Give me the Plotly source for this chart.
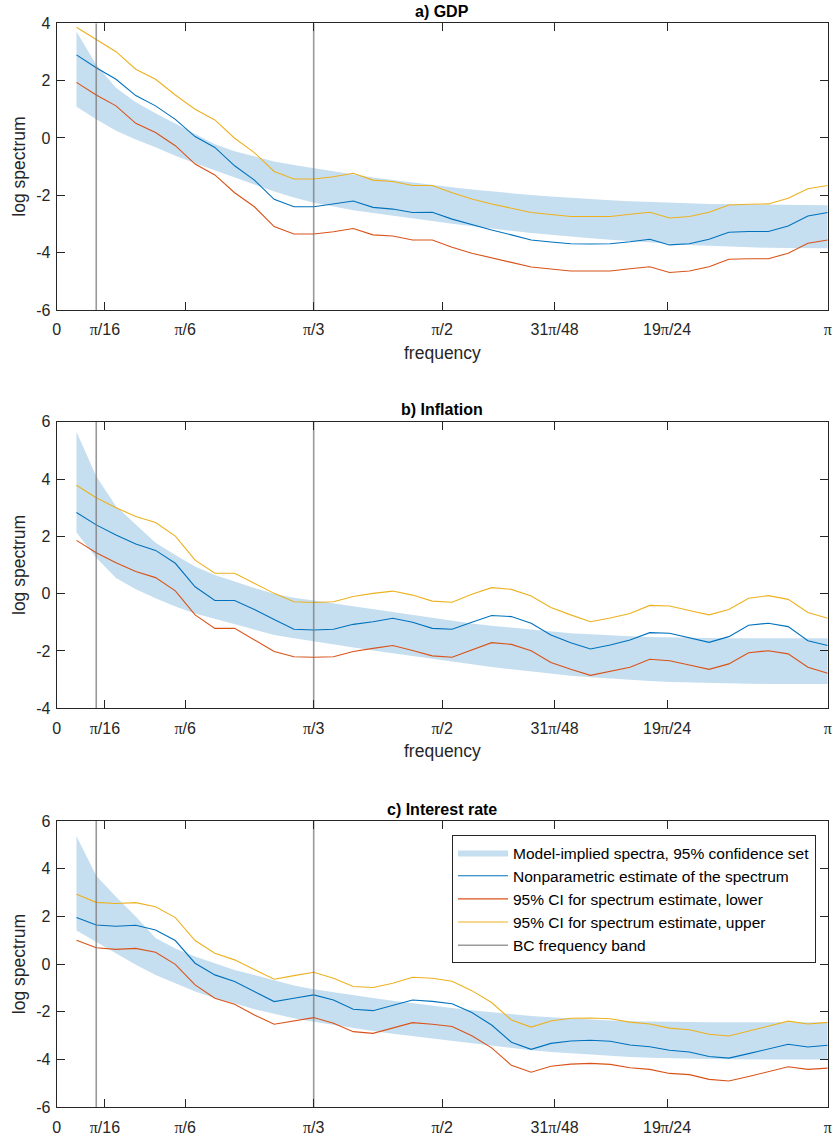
import numpy as np
import plotly.graph_objects as go

PI = np.pi
N = 39
freq = [PI * j / N for j in range(1, N + 1)]

# ---------- Panel a) GDP ----------
gdp_est = [2.90, 2.45, 2.05, 1.48, 1.12, 0.65, 0.05, -0.33, -0.97, -1.47, -2.14, -2.40, -2.40,
           -2.30, -2.20, -2.42, -2.48, -2.60, -2.59, -2.83, -3.03, -3.21, -3.38, -3.56, -3.63,
           -3.69, -3.70, -3.69, -3.62, -3.53, -3.73, -3.69, -3.53, -3.29, -3.26, -3.26, -3.07,
           -2.72, -2.60]
gdp_lo = [1.94, 1.50, 1.12, 0.51, 0.19, -0.27, -0.91, -1.29, -1.91, -2.40, -3.09, -3.35, -3.35,
          -3.27, -3.16, -3.38, -3.42, -3.56, -3.56, -3.81, -4.02, -4.17, -4.34, -4.50, -4.57,
          -4.64, -4.64, -4.64, -4.56, -4.49, -4.69, -4.64, -4.49, -4.23, -4.21, -4.21, -4.02,
          -3.67, -3.56]
gdp_hi = [3.86, 3.42, 3.01, 2.40, 2.05, 1.50, 1.00, 0.63, -0.01, -0.51, -1.17, -1.43, -1.43,
          -1.35, -1.23, -1.47, -1.52, -1.66, -1.66, -1.91, -2.13, -2.30, -2.45, -2.60, -2.67,
          -2.74, -2.74, -2.74, -2.66, -2.59, -2.79, -2.74, -2.59, -2.34, -2.31, -2.30, -2.10,
          -1.77, -1.66]
gdp_band_hi = [3.71, 2.55, 1.75, 1.25, 0.86, 0.50, 0.12, -0.22, -0.46, -0.64, -0.82, -0.94, -1.05,
               -1.17, -1.28, -1.38, -1.47, -1.56, -1.64, -1.72, -1.80, -1.87, -1.94, -1.99, -2.04,
               -2.09, -2.13, -2.17, -2.21, -2.24, -2.26, -2.28, -2.30, -2.31, -2.32, -2.33, -2.34,
               -2.34, -2.35]
gdp_band_lo = [1.09, 0.65, 0.25, -0.05, -0.32, -0.62, -0.88, -1.12, -1.38, -1.62, -1.87, -2.08, -2.26,
               -2.40, -2.52, -2.62, -2.72, -2.80, -2.90, -2.99, -3.08, -3.16, -3.24, -3.31, -3.38,
               -3.44, -3.50, -3.55, -3.60, -3.65, -3.69, -3.73, -3.76, -3.79, -3.81, -3.83, -3.84,
               -3.85, -3.85]

# ---------- Panel b) Inflation ----------
inf_est = [2.83, 2.40, 2.05, 1.73, 1.51, 1.06, 0.24, -0.24, -0.24, -0.55, -0.90, -1.24, -1.27,
           -1.24, -1.07, -0.98, -0.86, -1.00, -1.21, -1.24, -1.00, -0.76, -0.80, -1.03, -1.44,
           -1.71, -1.93, -1.79, -1.62, -1.36, -1.38, -1.53, -1.70, -1.50, -1.10, -1.03, -1.15,
           -1.64, -1.81]
inf_lo = [1.86, 1.43, 1.08, 0.77, 0.56, 0.10, -0.74, -1.21, -1.21, -1.62, -2.02, -2.20, -2.22,
          -2.20, -2.02, -1.91, -1.81, -1.98, -2.17, -2.22, -1.97, -1.71, -1.77, -1.99, -2.40,
          -2.64, -2.85, -2.72, -2.57, -2.29, -2.34, -2.49, -2.64, -2.45, -2.06, -1.99, -2.10,
          -2.57, -2.78]
inf_hi = [3.78, 3.35, 3.00, 2.69, 2.48, 2.01, 1.17, 0.71, 0.71, 0.36, 0.01, -0.28, -0.31,
          -0.28, -0.10, 0.01, 0.09, -0.05, -0.26, -0.30, -0.02, 0.21, 0.15, -0.08, -0.48,
          -0.74, -0.98, -0.85, -0.69, -0.41, -0.43, -0.59, -0.74, -0.55, -0.16, -0.07, -0.20,
          -0.66, -0.86]
inf_band_hi = [5.65, 4.10, 3.05, 2.40, 1.78, 1.35, 0.95, 0.65, 0.42, 0.20, 0.00, -0.14, -0.24,
               -0.34, -0.45, -0.55, -0.65, -0.76, -0.86, -0.95, -1.04, -1.12, -1.19, -1.26, -1.32,
               -1.38, -1.42, -1.46, -1.49, -1.51, -1.53, -1.54, -1.55, -1.56, -1.56, -1.56, -1.56,
               -1.56, -1.56]
inf_band_lo = [2.13, 1.25, 0.55, 0.15, -0.16, -0.45, -0.69, -0.88, -1.08, -1.27, -1.44, -1.56, -1.67,
               -1.78, -1.88, -1.98, -2.08, -2.18, -2.28, -2.38, -2.47, -2.56, -2.64, -2.72, -2.79,
               -2.86, -2.92, -2.97, -3.01, -3.05, -3.08, -3.10, -3.12, -3.13, -3.14, -3.15, -3.15,
               -3.15, -3.15]

# ---------- Panel c) Interest rate ----------
int_est = [1.96, 1.64, 1.59, 1.63, 1.43, 0.99, 0.04, -0.45, -0.73, -1.15, -1.57, -1.43, -1.29,
           -1.50, -1.89, -1.95, -1.71, -1.50, -1.56, -1.66, -2.03, -2.55, -3.27, -3.57, -3.32,
           -3.22, -3.19, -3.23, -3.39, -3.46, -3.61, -3.68, -3.87, -3.94, -3.75, -3.55, -3.36,
           -3.47, -3.40]
int_lo = [1.00, 0.69, 0.62, 0.66, 0.50, -0.01, -0.87, -1.43, -1.68, -2.13, -2.52, -2.38, -2.24,
          -2.48, -2.83, -2.90, -2.69, -2.45, -2.52, -2.61, -3.00, -3.51, -4.24, -4.53, -4.28,
          -4.19, -4.16, -4.20, -4.34, -4.41, -4.58, -4.63, -4.83, -4.90, -4.71, -4.51, -4.30,
          -4.41, -4.36]
int_hi = [2.93, 2.59, 2.54, 2.58, 2.41, 1.95, 0.99, 0.46, 0.18, -0.24, -0.63, -0.48, -0.34,
          -0.59, -0.94, -0.98, -0.80, -0.55, -0.59, -0.72, -1.11, -1.61, -2.34, -2.64, -2.38,
          -2.27, -2.26, -2.29, -2.43, -2.51, -2.68, -2.75, -2.94, -3.01, -2.80, -2.61, -2.39,
          -2.51, -2.44]
int_band_hi = [5.37, 3.70, 2.83, 2.00, 1.10, 0.66, 0.32, 0.04, -0.24, -0.45, -0.69, -0.90, -1.05,
               -1.18, -1.30, -1.42, -1.53, -1.64, -1.74, -1.84, -1.93, -2.02, -2.10, -2.17, -2.23,
               -2.28, -2.32, -2.36, -2.39, -2.41, -2.42, -2.43, -2.44, -2.44, -2.44, -2.44, -2.44,
               -2.44, -2.44]
int_band_lo = [1.41, 0.94, 0.46, -0.03, -0.45, -0.80, -1.15, -1.43, -1.64, -1.89, -2.08, -2.27, -2.41,
               -2.55, -2.68, -2.80, -2.92, -3.02, -3.13, -3.24, -3.34, -3.44, -3.53, -3.61, -3.68,
               -3.74, -3.80, -3.85, -3.89, -3.92, -3.95, -3.97, -3.98, -3.99, -4.00, -4.00, -4.00,
               -4.00, -4.00]

bc_band = [2 * PI / N, PI / 3]

xtick_vals = [0, PI / 16, PI / 6, PI / 3, PI / 2, 31 * PI / 48, 19 * PI / 24, PI]
PIG = "<span style='font-family:Liberation Serif'>π</span>"
xtick_text = ["0", PIG + "/16", PIG + "/6", PIG + "/3", PIG + "/2",
              "31" + PIG + "/48", "19" + PIG + "/24", PIG]

panels = [
    dict(title="a) GDP", est=gdp_est, lo=gdp_lo, hi=gdp_hi, bhi=gdp_band_hi, blo=gdp_band_lo,
         yrange=[-6, 4], ytick=[-6, -4, -2, 0, 2, 4], ytop=23.3, ybot=310.0, xlabel=True),
    dict(title="b) Inflation", est=inf_est, lo=inf_lo, hi=inf_hi, bhi=inf_band_hi, blo=inf_band_lo,
         yrange=[-4, 6], ytick=[-4, -2, 0, 2, 4, 6], ytop=421.7, ybot=708.3, xlabel=True),
    dict(title="c) Interest rate", est=int_est, lo=int_lo, hi=int_hi, bhi=int_band_hi, blo=int_band_lo,
         yrange=[-6, 6], ytick=[-6, -4, -2, 0, 2, 4, 6], ytop=821.0, ybot=1107.3, xlabel=False),
]

W, H = 834, 1142
XL, XR = 56.7, 827.7

BLUE = "#0072BD"
RED = "#D95319"
YEL = "#EDB120"
BAND = "#C6DFF0"
GREY = "rgba(120,120,120,0.75)"
AX = "#262626"
FONT = "Liberation Sans, Arial, sans-serif"

fig = go.Figure()
annotations = []

for i, p in enumerate(panels, start=1):
    xa = "x" if i == 1 else f"x{i}"
    ya = "y" if i == 1 else f"y{i}"
    show = (i == 3)
    fig.add_trace(go.Scatter(x=freq, y=p["blo"], mode="lines", line=dict(width=0, color=BAND),
                             showlegend=False, hoverinfo="skip", xaxis=xa, yaxis=ya))
    fig.add_trace(go.Scatter(x=freq, y=p["bhi"], mode="lines", line=dict(width=0, color=BAND),
                             fill="tonexty", fillcolor=BAND,
                             name="Model-implied spectra, 95% confidence set",
                             showlegend=show, xaxis=xa, yaxis=ya))
    fig.add_trace(go.Scatter(x=freq, y=p["est"], mode="lines", line=dict(width=1.1, color=BLUE),
                             name="Nonparametric estimate of the spectrum",
                             showlegend=show, xaxis=xa, yaxis=ya))
    fig.add_trace(go.Scatter(x=freq, y=p["lo"], mode="lines", line=dict(width=1.1, color=RED),
                             name="95% CI for spectrum estimate, lower",
                             showlegend=show, xaxis=xa, yaxis=ya))
    fig.add_trace(go.Scatter(x=freq, y=p["hi"], mode="lines", line=dict(width=1.1, color=YEL),
                             name="95% CI for spectrum estimate, upper",
                             showlegend=show, xaxis=xa, yaxis=ya))
    y0, y1 = p["yrange"]
    fig.add_trace(go.Scatter(x=[bc_band[0], bc_band[0], None, bc_band[1], bc_band[1]],
                             y=[y0, y1, None, y0, y1], mode="lines",
                             line=dict(width=1.6, color=GREY),
                             name="BC frequency band", showlegend=show, xaxis=xa, yaxis=ya))

    dom_y = [1 - p["ybot"] / H, 1 - p["ytop"] / H]
    xkey = "xaxis" if i == 1 else f"xaxis{i}"
    ykey = "yaxis" if i == 1 else f"yaxis{i}"
    fig.update_layout(**{
        xkey: dict(domain=[XL / W, XR / W], range=[0, PI], anchor=ya, automargin=False,
                   tickvals=xtick_vals, ticktext=xtick_text, ticks="inside", ticklen=8,
                   tickcolor=AX, showline=True, linecolor=AX, linewidth=1, mirror="ticks",
                   showgrid=False, zeroline=False, tickfont=dict(size=16, color=AX, family=FONT),
                   ticklabelstandoff=5),
        ykey: dict(domain=dom_y, range=p["yrange"], anchor=xa, automargin=False,
                   tickvals=p["ytick"], ticktext=[str(t) for t in p["ytick"]],
                   ticks="inside", ticklen=8,
                   tickcolor=AX, showline=True, linecolor=AX, linewidth=1, mirror="ticks",
                   showgrid=False, zeroline=False, tickfont=dict(size=16, color=AX, family=FONT),
                   ticklabelstandoff=2),
    })
    annotations.append(dict(text="<b>" + p["title"] + "</b>", x=(XL + XR) / 2 / W,
                            y=1 - (p["ytop"] - 12) / H, xref="paper", yref="paper",
                            showarrow=False, font=dict(size=16, color="black", family=FONT),
                            xanchor="center", yanchor="middle"))
    annotations.append(dict(text="log spectrum", x=19 / W, y=1 - ((p["ytop"] + p["ybot"]) / 2) / H,
                            xref="paper", yref="paper", showarrow=False, textangle=-90,
                            font=dict(size=17.5, color=AX, family=FONT),
                            xanchor="center", yanchor="middle"))
    if p["xlabel"]:
        annotations.append(dict(text="frequency", x=(XL + XR) / 2 / W, y=1 - (p["ybot"] + 43) / H,
                                xref="paper", yref="paper", showarrow=False,
                                font=dict(size=17.5, color=AX, family=FONT),
                                xanchor="center", yanchor="middle"))

fig.update_layout(
    width=W, height=H,
    margin=dict(l=0, r=0, t=0, b=0, autoexpand=False),
    paper_bgcolor="white", plot_bgcolor="white",
    font=dict(family=FONT, color=AX),
    annotations=annotations,
    legend=dict(x=452 / W, y=1 - 835 / H, xanchor="left", yanchor="top",
                bordercolor=AX, borderwidth=1, bgcolor="white",
                font=dict(size=15.5, color="black", family=FONT),
                traceorder="normal", itemwidth=50, tracegroupgap=0),
)

fig.write_html("out.html")
